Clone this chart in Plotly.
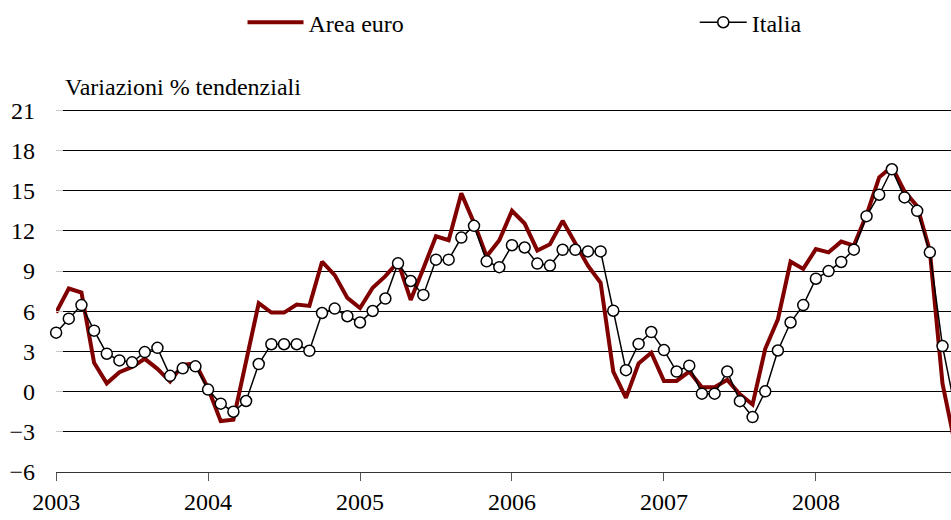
import plotly.graph_objects as go

years = [2003, 2004, 2005, 2006, 2007, 2008]
months = [f"{y}-{m:02d}" for y in years for m in range(1, 13)]
tick_months = [f"{y}-01" for y in years]
tick_labels = [str(y) for y in years]
y_ticks = [-6, -3, 0, 3, 6, 9, 12, 15, 18, 21]

area_euro = [
    5.9, 7.7, 7.4, 2.15, 0.62, 1.45, 1.85, 2.45, 1.7, 0.75, 2.0, 2.1,
    0.25, -2.2, -2.1, 2.3, 6.6, 5.9, 5.9, 6.5, 6.4, 9.7, 8.7, 7.0,
    6.24, 7.76, 8.62, 9.68, 6.85, 9.2, 11.6, 11.3, 14.8, 12.6, 10.1, 11.3,
    13.5, 12.55, 10.54, 11.0, 12.75, 11.08, 9.4, 8.13, 1.5, -0.47, 2.1, 2.9,
    0.8, 0.8, 1.5, 0.32, 0.32, 0.88, -0.2, -0.96, 3.2, 5.4, 9.7, 9.16,
    10.64, 10.4, 11.2, 10.9, 13.2, 16.0, 16.8, 14.95, 13.85, 10.5, 0.6, -4.0,
]

italia = [
    4.4, 5.45, 6.46, 4.55, 2.83, 2.33, 2.19, 2.95, 3.27, 1.18, 1.74, 1.89,
    0.15, -0.9, -1.5, -0.7, 2.06, 3.54, 3.54, 3.54, 3.05, 5.87, 6.2, 5.63,
    5.16, 6.02, 6.95, 9.58, 8.26, 7.22, 9.85, 9.85, 11.5, 12.38, 9.73, 9.29,
    10.93, 10.76, 9.56, 9.41, 10.59, 10.59, 10.47, 10.47, 6.04, 1.6, 3.56, 4.45,
    3.1, 1.5, 1.94, -0.15, -0.15, 1.5, -0.71, -1.9, 0.02, 3.07, 5.16, 6.46,
    8.43, 9.0, 9.68, 10.6, 13.1, 14.7, 16.6, 14.5, 13.5, 10.4, 3.4, -1.3,
]

FONT = "Times New Roman, Liberation Serif, DejaVu Serif, serif"
FS = 24

fig = go.Figure()
fig.add_trace(go.Scatter(
    x=months, y=area_euro, name="Area euro", mode="lines",
    line=dict(color="#800000", width=4),
    legend="legend",
))
fig.add_trace(go.Scatter(
    x=months, y=italia, name="Italia", mode="lines+markers",
    line=dict(color="black", width=1.5),
    marker=dict(symbol="circle", size=11, color="white",
                line=dict(color="black", width=1.5)),
    cliponaxis=False,
    legend="legend2",
))

fig.update_layout(
    width=951, height=520,
    margin=dict(l=56, r=0, t=105, b=48),
    paper_bgcolor="white", plot_bgcolor="white",
    font=dict(family=FONT, size=FS, color="black"),
    showlegend=True,
    legend=dict(x=0.2084, y=1.238, xanchor="left", yanchor="middle",
                orientation="h", bgcolor="rgba(0,0,0,0)", itemwidth=56,
                font=dict(family=FONT, size=FS, color="black")),
    legend2=dict(x=0.7137, y=1.238, xanchor="left", yanchor="middle",
                 orientation="h", bgcolor="rgba(0,0,0,0)", itemwidth=47,
                 font=dict(family=FONT, size=FS, color="black")),
    xaxis=dict(
        type="category", range=[-0.01, 70.67],
        tickmode="array", tickvals=tick_months, ticktext=tick_labels,
        showgrid=False, showline=True, linecolor="#333333", linewidth=1,
        ticks="outside", ticklen=8, tickcolor="#555555", tickwidth=1,
        zeroline=False, tickangle=0,
    ),
    yaxis=dict(
        range=[-6, 21.1], tickmode="array", tickvals=y_ticks,
        showgrid=True, gridcolor="black", gridwidth=1,
        zeroline=False, showline=False,
        ticks="inside", ticklen=7, tickcolor="#c8c8c8",
        ticklabelstandoff=20,
    ),
    annotations=[dict(
        text="Variazioni % tendenziali", xref="paper", yref="paper",
        x=0.008, y=1.06, xanchor="left", yanchor="middle",
        showarrow=False, font=dict(family=FONT, size=FS, color="black"),
    )],
)

fig.write_html(
    "out.html",
    config={"displayModeBar": False},
    post_script=(
        "document.body.style.margin='0';"
        "document.body.style.overflow='hidden';"
        "document.documentElement.style.overflow='hidden';"
    ),
)
